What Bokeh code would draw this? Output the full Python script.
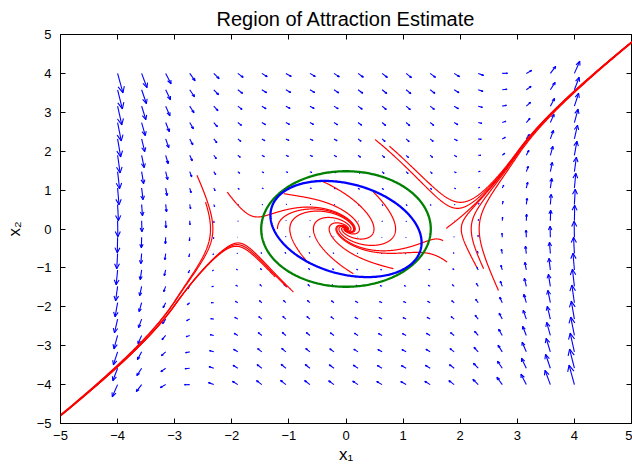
import numpy as np
from bokeh.plotting import figure
from bokeh.models import Range1d, FixedTicker, LinearAxis
from bokeh.embed import file_html
from bokeh.resources import INLINE

# ---------------- data ----------------
title_text = "Region of Attraction Estimate"
x_label = "x\u2081"
y_label = "x\u2082"
tick_values = [-5, -4, -3, -2, -1, 0, 1, 2, 3, 4, 5]
tick_labels = ["\u22125", "\u22124", "\u22123", "\u22122", "\u22121", "0", "1", "2", "3", "4", "5"]

# vector field  x1' = x2 ,  x2' = a1*x1 + a3*x1^3 + a2*x2
sys_a1 = -1.0
sys_a3 = 1.0 / 3.0
sys_a2 = -1.0

# the drawn trajectories bend less in the far field than the arrows:
# cubic term followed up to |x1| = sat_x1, then growing with slope sat_slope
sat_x1 = 3.0
sat_slope = 3.3

# quiver grid (20 x 20 points from -4 to 4)
grid_lo, grid_hi, grid_n = -4.0, 4.0, 20

# level sets
circle_radius = 1.485                          # green estimate
ellipse_P = [[0.62, 0.187], [0.187, 0.711]]    # blue estimate  x'Px = 1

# trajectory start points (x1, x2) and integration time
traj_x1 = [-0.42, -1.09, 0.48, -0.65, 0.13, 0.83, -2.08, 1.77, 1.70, -1.20,
           -0.92, -1.03, -1.24, -2.61, -2.46, 0.51, 0.76, 1.76, 2.29, 2.41, 2.67]
traj_x2 = [1.23, 0.91, 0.95, -0.89, -1.15, -1.02, 0.95, -0.85, -0.30, 0.00,
           -1.62, -1.50, -1.23, 1.38, 0.69, 2.30, 2.13, 0.01, -0.98, -1.02, -1.58]
traj_T = [18, 18, 18, 18, 18, 18, 18, 18, 18, 18,
          14, 14, 14, 14, 14, 14, 14, 14, 14, 14, 14]


def field(x1, x2):
    return x2, sys_a1 * x1 + sys_a3 * x1 ** 3 + sys_a2 * x2


def cubic_sat(x):
    ax = abs(x)
    if ax <= sat_x1:
        return sys_a3 * x ** 3
    return np.sign(x) * (sys_a3 * sat_x1 ** 3 + sat_slope * (ax - sat_x1))


def traj_field(z):
    return np.array([z[1], sys_a1 * z[0] + cubic_sat(z[0]) + sys_a2 * z[1]])


def integrate(p0, T, dt=0.004):
    x = np.array(p0, dtype=float)
    out = [x.copy()]
    F = traj_field
    for _ in range(int(T / dt)):
        k1 = F(x)
        k2 = F(x + dt / 2 * k1)
        k3 = F(x + dt / 2 * k2)
        k4 = F(x + dt * k3)
        x = x + dt / 6 * (k1 + 2 * k2 + 2 * k3 + k4)
        out.append(x.copy())
        if abs(x[0]) > 5.4 or abs(x[1]) > 5.4:
            break
    arr = np.array(out)
    return arr[::2] if len(arr) > 4 else arr


# ---------------- figure ----------------
p = figure(width=632, height=470, x_range=Range1d(-5, 5), y_range=Range1d(-5, 5),
           output_backend="svg", toolbar_location=None,
           min_border_left=60, min_border_right=1, min_border_top=34, min_border_bottom=47)
p.title.text = title_text
p.title.align = "center"
p.title.text_font = "Liberation Sans"
p.title.text_font_size = "20px"
p.title.text_font_style = "normal"
p.title.text_color = "black"
p.title.standoff = 9
p.xgrid.visible = False
p.ygrid.visible = False
p.outline_line_color = "black"
p.outline_line_width = 1
p.background_fill_color = "white"
p.border_fill_color = "white"

overrides = {v: t for v, t in zip(tick_values, tick_labels)}
for ax in (p.xaxis[0], p.yaxis[0]):
    ax.ticker = FixedTicker(ticks=tick_values)
    ax.major_label_overrides = overrides
    ax.major_tick_in = 5
    ax.major_tick_out = 0
    ax.minor_tick_line_color = None
    ax.axis_line_color = "black"
    ax.major_tick_line_color = "black"
    ax.major_label_text_font = "Liberation Sans"
    ax.major_label_text_font_size = "13px"
    ax.major_label_text_color = "black"
    ax.axis_label_text_font = "Liberation Sans"
    ax.axis_label_text_font_size = "17px"
    ax.axis_label_text_font_style = "normal"
    ax.axis_label_text_color = "black"
p.xaxis[0].axis_label = x_label
p.yaxis[0].axis_label = y_label
p.xaxis[0].major_label_standoff = 7
p.yaxis[0].major_label_standoff = 9
p.xaxis[0].axis_label_standoff = 2
p.yaxis[0].axis_label_standoff = 10

# inward ticks on the top and right edges (box on)
for loc in ("above", "right"):
    ax = LinearAxis(ticker=FixedTicker(ticks=[], minor_ticks=tick_values))
    ax.minor_tick_in = 5
    ax.minor_tick_out = 0
    ax.minor_tick_line_color = "black"
    ax.major_tick_line_color = None
    ax.axis_line_color = None
    ax.major_label_standoff = 0
    p.add_layout(ax, loc)

# quiver (MATLAB-style autoscale and arrow heads)
g = np.linspace(grid_lo, grid_hi, grid_n)
GX, GY = np.meshgrid(g, g)
U, V = field(GX, GY)
dx = (grid_hi - grid_lo) / grid_n
scale = 0.9 / np.max(np.sqrt((U ** 2 + V ** 2) / (2 * dx * dx)))
U = U * scale
V = V * scale
alpha, beta = 0.33, 0.33
xs, ys = [], []
for x0, y0, u, v in zip(GX.ravel(), GY.ravel(), U.ravel(), V.ravel()):
    xs.append([x0, x0 + u])
    ys.append([y0, y0 + v])
    xs.append([x0 + u - alpha * (u + beta * v), x0 + u, x0 + u - alpha * (u - beta * v)])
    ys.append([y0 + v - alpha * (v - beta * u), y0 + v, y0 + v - alpha * (v + beta * u)])
p.multi_line(xs, ys, line_color="#0000ff", line_width=1.1)

# trajectories
txs, tys = [], []
for a, b, T in zip(traj_x1, traj_x2, traj_T):
    tr = integrate((a, b), T)
    txs.append(tr[:, 0].tolist())
    tys.append(tr[:, 1].tolist())
p.multi_line(txs, tys, line_color="#ff0000", line_width=1.2)

# level sets
th = np.linspace(0, 2 * np.pi, 361)
p.line(circle_radius * np.cos(th), circle_radius * np.sin(th), line_color="#008000", line_width=2.3)
P = np.array(ellipse_P)
c, s = np.cos(th), np.sin(th)
r = 1.0 / np.sqrt(P[0, 0] * c * c + 2 * P[0, 1] * c * s + P[1, 1] * s * s)
p.line(r * c, r * s, line_color="#0000ff", line_width=2.3)

open("out.html", "w").write(file_html(p, INLINE))
